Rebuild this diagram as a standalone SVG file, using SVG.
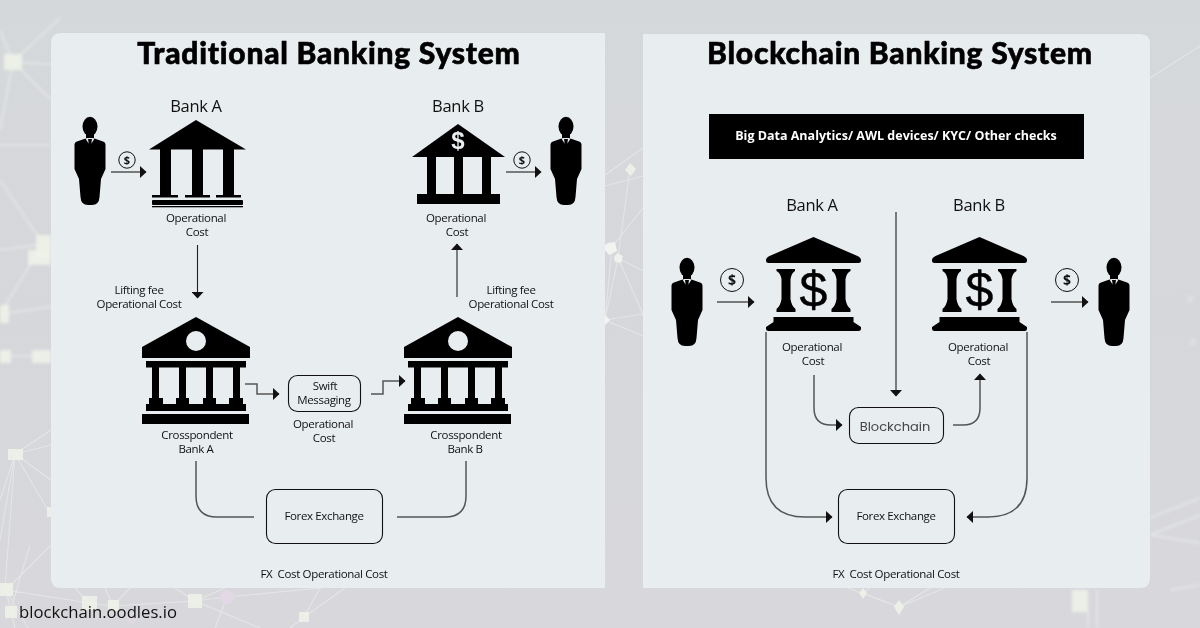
<svg xmlns="http://www.w3.org/2000/svg" width="1200" height="628" viewBox="0 0 1200 628">
<style>
text{font-family:"Open Sans","Noto Sans",sans-serif;fill:#111;text-anchor:middle;white-space:pre}
.s{font-size:11.5px;letter-spacing:-.35px}
.b{font-size:16.5px;letter-spacing:-.3px}
.t{font-family:"Lato","Noto Sans",sans-serif;font-size:30px;font-weight:900;letter-spacing:.75px;fill:#000;stroke:#000;stroke-width:.6px}
.c{fill:none;stroke:#555;stroke-width:1.5}
.box{fill:none;stroke:#111;stroke-width:1.1}
.bg{stroke:#eceeec;stroke-width:1.1;fill:none;opacity:.6}
.n{fill:#eef2e8;opacity:.9}
.k{fill:#000}
</style>
<defs>
<filter id="soft" x="-10%" y="-10%" width="120%" height="120%"><feGaussianBlur stdDeviation="1.6"/></filter>
<g id="person"><ellipse cx="0" cy="9.500" rx="7.500" ry="9.700" class="k"/><path class="k" d="M-4 16H4V22H-4Z"/><path class="k" d="M-15.500 28Q-15.500 25-13 24.500L-4.500 21.500 0 23 4.500 21.500 13 24.500Q15.500 25 15.500 28V52L11 62 9.500 80Q9 88 2 88H-2Q-9 88-9.500 80L-11 62-15.500 52Z"/><path d="M-4.500 21.500 0 29 4.500 21.500 2.500 21-2.500 21Z" fill="#e8edef"/><path class="k" d="M-2 22H2L1.500 25 2.500 31 0 35-2.500 31-1.500 25Z"/></g>
<g id="coin"><circle r="8.200" fill="none" stroke="#111" stroke-width="1"/><text y="4" style="font-size:11px;font-weight:700">$</text></g>
<g id="bank2"><path class="k" d="M-54 11 0 -19 54 11V22H-54Z"/><circle cy="5" r="10" fill="#e8edef"/><rect x="-50" y="25" width="100" height="6.500" class="k"/><rect x="-44" y="31" width="7" height="32" class="k"/><rect x="-17" y="31" width="7" height="32" class="k"/><rect x="10" y="31" width="7" height="32" class="k"/><rect x="37" y="31" width="7" height="32" class="k"/><rect x="-47" y="62" width="14" height="7" class="k"/><rect x="-20" y="62" width="13" height="7" class="k"/><rect x="7" y="62" width="13" height="7" class="k"/><rect x="33" y="62" width="14" height="7" class="k"/><rect x="-50" y="68" width="100" height="7" class="k"/><rect x="-54" y="78" width="107" height="10" class="k"/></g>
<g id="bank3"><path class="k" d="M-44 13 0 -6 44 13Q48 15 47.500 18 47.500 20 45 20H-45Q-47.500 20-47.500 18-48 15-44 13Z"/><path class="k" d="M-37 26H-18.500V28Q-22 30-23 36V56Q-22 63-18 66L-18 69H-37V66Q-33 63-32 56V36Q-33 30-37 28Z"/><path class="k" d="M18.500 26H37V28Q33 30 32 36V56Q33 63 37 66V69H18V66Q22 63 23 56V36Q22 30 18.500 28Z"/><text y="64" style="font-size:50px;font-family:'Liberation Sans';fill:#000;stroke:#000;stroke-width:.4px">$</text><path class="k" d="M-40 74H40V79L47.500 84V86Q47.500 88 45 88H-45Q-47.500 88-47.500 86V84L-40 79Z"/></g>
<marker id="ar" markerWidth="7" markerHeight="12" refX="6" refY="6" orient="auto" markerUnits="userSpaceOnUse"><path d="M0 0 6.500 6 0 12Z" fill="#111"/></marker>
<linearGradient id="sky" x1="0" y1="0" x2="0" y2="1"><stop offset="0" stop-color="#d5d8da"/><stop offset=".5" stop-color="#d6d7db"/><stop offset="1" stop-color="#d8d8dc"/></linearGradient>
</defs>
<rect width="1200" height="628" fill="url(#sky)"/>
<g id="background">
<g filter="url(#soft)"><path class="bg" style="stroke-width:2" d="M13 62 60 18M13 62 0 30M13 62 0 130M13 62 51 100M13 62 60 65M0 180 43 244 0 250M43 244 0 314M43 244 60 240M0 145H51M5 314 60 305M0 356H51"/><rect class="n" x="4" y="54" width="18" height="16"/><rect class="n" x="36" y="235" width="15" height="22"/><rect class="n" x="28" y="250" width="23" height="15"/><rect class="n" x="0" y="305" width="9" height="18"/><rect class="n" x="0" y="350" width="11" height="13" opacity=".7"/><rect class="n" x="32" y="350" width="19" height="13" opacity=".7"/><rect class="n" x="1072" y="590" width="16" height="22" opacity=".85"/><path class="bg" style="stroke-width:2" d="M1088 610V628M1097 590V628M1150 518 1200 498M1150 535 1200 515M1150 535 1200 543M1170 590 1200 585"/><circle cx="1190" cy="299" r="4" fill="#dcdde0"/><circle cx="1193" cy="342" r="4" fill="#dcdde0"/></g>
<path class="bg" d="M15 454 51 430M15 454 51 445M15 454 51 480M15 454 49 512M15 454 0 500M15 454 5 588M15 454 0 540M6 590 51 545M6 590 15 628M6 590 28 628M10 612 30 545M6 590 89 603 113 606 195 601 227 597 300 590M89 603 75 588M113 606 105 588M113 606 130 588M195 601 175 588M195 601 260 628M227 597 215 628M195 601 225 588M300 590 322 588M304 617 345 588M304 617 320 588M304 617 290 628M1150 78 1200 46M605 175 643 148M605 186 643 176M612 247 643 208M618 258 643 271M605 320 643 314M605 320 643 336M618 258 643 314M630 169 618 258M612 247 605 320M618 258 605 320M863 593 899 607M848 588 899 607M899 607 930 588M899 607 945 588M863 593 870 588"/>
<path fill="#eef2e8" opacity=".9" d="M630 163 636 169 631 176 625 170Z"/><path fill="#f2f4f0" d="M608 243 615 242 617 251 609 255 605 250V245Z"/><path fill="#f2f4f0" opacity=".9" d="M617 253 623 256 621 263 615 262 614 257Z"/><path fill="#f2f4f0" d="M605 315 610 320 605 325Z"/>
<path fill="#eef2e8" opacity=".9" d="M899 600 904 607 899 615 894 607Z"/><path fill="#eef2e8" opacity=".9" d="M863 588 867 593 863 599 859 593Z"/>
<rect class="n" x="8" y="449" width="15" height="11"/><rect class="n" x="47" y="507" width="6" height="10"/><rect class="n" x="0" y="583" width="13" height="13"/><rect class="n" x="5" y="606" width="12" height="12"/><rect class="n" x="82" y="596" width="15" height="14"/><rect class="n" x="108" y="600" width="11" height="11"/><rect class="n" x="188" y="594" width="14" height="14"/><circle cx="227" cy="597" r="7" fill="#e2d8e6"/><rect class="n" x="299" y="612" width="10" height="10"/><circle cx="132" cy="618" r="5" fill="#e2d8e6" opacity=".7"/>
</g>
<path id="panel-left" fill="#e8edef" d="M61 33H605V588H61Q51 588 51 578V43Q51 33 61 33Z"/>
<path id="panel-right" fill="#e8edef" d="M643 34H1140Q1150 34 1150 44V578Q1150 588 1140 588H643Z"/>
<text class="t" x="329" y="64">Traditional Banking System</text>
<text class="t" x="900" y="64">Blockchain Banking System</text>
<g id="connectors">
<path class="c" d="M111 172H146" marker-end="url(#ar)"/>
<path class="c" d="M506 172H541" marker-end="url(#ar)"/>
<path class="c" d="M197.500 245V298" style="stroke:#222;stroke-width:1.1" marker-end="url(#ar)"/>
<path class="c" d="M457 297V244" style="stroke:#222;stroke-width:1.1" marker-end="url(#ar)"/>
<path class="c" d="M245 384H257V394H279" marker-end="url(#ar)"/>
<path class="c" d="M371 394H383V381H405" marker-end="url(#ar)"/>
<path class="c" d="M196 461V496Q196 517 217 517H254"/>
<path class="c" d="M397 517H445Q466 517 466 496V461"/>
<path class="c" d="M717 302H754" marker-end="url(#ar)"/>
<path class="c" d="M1051 302H1088" marker-end="url(#ar)"/>
<path class="c" d="M896 212V396" marker-end="url(#ar)"/>
<path class="c" d="M814 375V408Q814 425 831 425H842" marker-end="url(#ar)"/>
<path class="c" d="M953 425H963Q980 425 980 408V374" marker-end="url(#ar)"/>
<path class="c" d="M766 332V478Q766 517 805 517H832" marker-end="url(#ar)"/>
<path class="c" d="M1027 332V478Q1027 517 988 517H967" marker-end="url(#ar)"/>
</g>
<g id="person-a1"><use href="#person" transform="translate(90 117)"/></g>
<g id="coin-a1"><use href="#coin" x="127" y="160"/></g>
<g id="bank-a"><text class="b" x="196" y="112">Bank A</text><path class="k" d="M149 149.500 196 120 246 149.500Z"/><rect x="160" y="149" width="11" height="47" class="k"/><rect x="192" y="149" width="11" height="47" class="k"/><rect x="223" y="149" width="11" height="47" class="k"/><rect x="152" y="195" width="26" height="2.500" class="k"/><rect x="185" y="195" width="25" height="2.500" class="k"/><rect x="216" y="195" width="25" height="2.500" class="k"/><rect x="152" y="200" width="91" height="5" rx="1" class="k"/><rect x="152" y="206" width="91" height="1.300" class="k"/><text class="s" x="196" y="222">Operational</text><text class="s" x="197" y="236">Cost</text></g>
<g id="bank-b"><text class="b" x="458" y="112">Bank B</text><path class="k" d="M412 157 458 124 505 157Z"/><rect x="427" y="156" width="9" height="48" class="k"/><rect x="454" y="156" width="9" height="48" class="k"/><rect x="482" y="156" width="9" height="48" class="k"/><rect x="417" y="194" width="83" height="10" class="k"/><text x="458" y="149" style="font-size:24px;font-weight:700;font-family:'Liberation Sans';fill:#e8edef">$</text><text class="s" x="456" y="222">Operational</text><text class="s" x="457" y="236">Cost</text></g>
<g id="coin-b1"><use href="#coin" x="522" y="160"/></g>
<g id="person-b1"><use href="#person" transform="translate(566 117)"/></g>
<g id="label-lift-a"><text class="s" x="139" y="294">Lifting fee</text><text class="s" x="139" y="308">Operational Cost</text></g>
<g id="label-lift-b"><text class="s" x="511" y="294">Lifting fee</text><text class="s" x="511" y="308">Operational Cost</text></g>
<g id="cor-a"><use href="#bank2" transform="translate(196 336)"/><text class="s" x="197" y="439">Crosspondent</text><text class="s" x="196" y="453">Bank A</text></g>
<g id="cor-b"><use href="#bank2" transform="translate(458 336)"/><text class="s" x="466" y="439">Crosspondent</text><text class="s" x="465" y="453">Bank B</text></g>
<g id="swift"><rect class="box" x="288.500" y="375.500" width="72" height="36" rx="9"/><text class="s" x="325" y="390">Swift</text><text class="s" x="324" y="404">Messaging</text><text class="s" x="323" y="428">Operational</text><text class="s" x="324" y="442">Cost</text></g>
<g id="forex-l"><rect class="box" x="266.500" y="489.500" width="116" height="54" rx="9"/><text class="s" x="324" y="520">Forex Exchange</text></g>
<text class="s" x="324" y="578">FX  Cost Operational Cost</text>
<g id="checks"><rect x="709" y="114" width="375" height="45" fill="#000"/><text x="896" y="140" style="font-size:12.500px;font-weight:700;fill:#fff">Big Data Analytics/ AWL devices/ KYC/ Other checks</text></g>
<g id="person-a2"><use href="#person" transform="translate(687 258)"/></g>
<g id="coin-a2"><circle cx="732" cy="280" r="11.500" fill="none" stroke="#111"/><text x="732" y="285" style="font-size:14px;font-weight:700">$</text></g>
<g id="bank-a2"><text class="b" x="812" y="211">Bank A</text><use href="#bank3" transform="translate(813.500 243)"/><text class="s" x="812" y="351">Operational</text><text class="s" x="813" y="365">Cost</text></g>
<g id="bank-b2"><text class="b" x="979" y="211">Bank B</text><use href="#bank3" transform="translate(979.500 243)"/><text class="s" x="978" y="351">Operational</text><text class="s" x="979" y="365">Cost</text></g>
<g id="coin-b2"><circle cx="1067" cy="280" r="11.500" fill="none" stroke="#111"/><text x="1067" y="285" style="font-size:14px;font-weight:700">$</text></g>
<g id="person-b2"><use href="#person" transform="translate(1114 258)"/></g>
<g id="blockchain"><rect class="box" x="849.500" y="407.500" width="94" height="36" rx="9"/><text x="895" y="431" style="font-size:13px;font-family:Poppins,Inter,sans-serif;fill:#444">Blockchain</text></g>
<g id="forex-r"><rect class="box" x="838.500" y="489.500" width="116" height="54" rx="9"/><text class="s" x="896" y="520">Forex Exchange</text></g>
<text class="s" x="896" y="578">FX  Cost Operational Cost</text>
<text x="19" y="617.500" style="font-size:16.700px;text-anchor:start">blockchain.oodles.io</text>
</svg>
